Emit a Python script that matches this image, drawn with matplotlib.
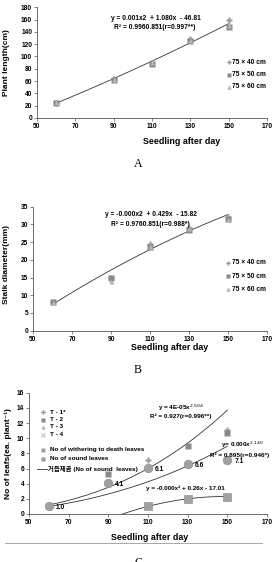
import matplotlib
matplotlib.use("Agg")
import matplotlib.pyplot as plt
import numpy as np

plt.rcParams["font.family"] = ["Liberation Sans", "DejaVu Sans", "Noto Sans CJK KR"]

# ---- data ----
days = [60, 90, 110, 130, 150]

# A: plant length (cm)
len_40 = [25, 64, 90, 129, 159]
len_50 = [24, 61, 88, 125, 148]
len_60 = [26, 63, 91, 127, 151]
trend_a = [0.0017, 1.080, -46.81]        # quadratic trend drawn in panel A

# B: stalk diameter (mm)
dia_40 = [8, 15, 24.5, 29, 32]
dia_50 = [8, 15, 23.5, 28.5, 31.5]
dia_60 = [8, 14, 24, 29, 31.5]
trend_b = [-0.0007, 0.429, -15.82]

# C: number of leaves
t1_days = [110, 150]
t1_vals = [7.1, 11.1]
t2_days = [90, 130, 150]
t2_vals = [5.3, 9.0, 10.7]
wither_days = [110, 130, 150]
wither_vals = [1.0, 2.0, 2.3]
sound_vals = [1.0, 4.1, 6.1, 6.6, 7.1]
upper_pow = [2.23e-5, 2.66]    # k, p  (y = k x^p)
middle_pow = [5.63e-5, 2.39]
lower_quad = [-0.000875, 0.26, -17.01]

W, H = 275, 562
FS = 4.8      # annotation / legend text
TICK = 4.8
LAB = 6.0
fig = plt.figure(figsize=(W / 100, H / 100), dpi=100)


def px_axes(l, t, r, b):
    return fig.add_axes([l / W, 1 - b / H, (r - l) / W, (b - t) / H])


def fx(x):
    return x / W


def fy(y):
    return 1 - y / H


def style(ax, ymax, ystep):
    ax.set_xlim(50, 170)
    ax.set_ylim(0, ymax)
    ax.set_xticks(range(50, 171, 20))
    ax.set_yticks(np.arange(0, ymax + 0.1, ystep))
    for s in ("top", "right"):
        ax.spines[s].set_visible(False)
    for s in ("left", "bottom"):
        ax.spines[s].set_linewidth(0.6)
        ax.spines[s].set_color("#555")
    ax.tick_params(length=2, width=0.5, color="#555", pad=1.5, labelsize=TICK)
    for lab in ax.get_xticklabels() + ax.get_yticklabels():
        lab.set_fontweight("bold")
    ax.patch.set_alpha(0)


def fig_marker(x, y, **kw):
    fig.lines.append(plt.Line2D([fx(x)], [fy(y)], transform=fig.transFigure, **kw))


mk = dict(ls="none", mec="none")
series_style = [("75 \u00d7 40 cm", "P", "#9a9a9a"),
                ("75 \u00d7 50 cm", "s", "#8a8a8a"),
                ("75 \u00d7 60 cm", "^", "#b5b5b5")]

# ---------------- panel A ----------------
axA = px_axes(37, 7.3, 267, 118)
style(axA, 180, 20)
xs = np.linspace(60, 150, 100)
axA.plot(xs, np.polyval(trend_a, xs), color="#333", lw=0.6)
axA.plot(days, len_40, marker="P", ms=4, color="#9a9a9a", **mk)
axA.plot(days, len_50, marker="s", ms=4.2, color="#8a8a8a", **mk)
axA.plot(days, len_60, marker="^", ms=3.6, color="#b5b5b5", **mk)
fig.text(fx(156), fy(18), "y = 0.001x2  + 1.080x  - 46.81", ha="center", va="center",
         fontsize=FS, fontweight="bold")
fig.text(fx(155), fy(27.5), "R\u00b2 = 0.9960.851(r=0.997**)", ha="center", va="center",
         fontsize=FS, fontweight="bold")
for i, (lab, m, c) in enumerate(series_style):
    yy = 62 + i * 12.5
    fig_marker(229, yy, marker=m, ms=3.2, color=c, mec="none")
    fig.text(fx(232.5), fy(yy), lab, va="center", fontsize=FS, fontweight="bold")
fig.text(fx(7), fy(63), "Plant length(cm)", rotation=90, ha="center", va="center",
         fontsize=LAB, fontweight="bold")
fig.text(fx(182), fy(142), "Seedling after day", ha="center", va="center",
         fontsize=6.4, fontweight="bold")
fig.text(fx(138), fy(164), "A", ha="center", va="center", fontsize=8.5,
         family="Liberation Serif")

# ---------------- panel B ----------------
axB = px_axes(33, 206.7, 267, 330.7)
style(axB, 35, 5)
axB.plot(xs, np.polyval(trend_b, xs), color="#333", lw=0.6)
axB.plot(days, dia_40, marker="P", ms=4, color="#9a9a9a", **mk)
axB.plot(days, dia_50, marker="s", ms=4.2, color="#8a8a8a", **mk)
axB.plot(days, dia_60, marker="^", ms=3.6, color="#b5b5b5", **mk)
fig.text(fx(151), fy(214), "y = -0.000x2  + 0.429x  - 15.82", ha="center", va="center",
         fontsize=FS, fontweight="bold")
fig.text(fx(150), fy(224), "R\u00b2 = 0.9760.851(r=0.988*)", ha="center", va="center",
         fontsize=FS, fontweight="bold")
for i, (lab, m, c) in enumerate(series_style):
    yy = 262.7 + i * 13.3
    fig_marker(228, yy, marker=m, ms=3.2, color=c, mec="none")
    fig.text(fx(232), fy(yy), lab, va="center", fontsize=FS, fontweight="bold")
fig.text(fx(7), fy(264), "Stalk diameter(mm)", rotation=90, ha="center", va="center",
         fontsize=LAB, fontweight="bold")
fig.text(fx(170), fy(348), "Seedling after day", ha="center", va="center",
         fontsize=6.4, fontweight="bold")
fig.text(fx(138), fy(370), "B", ha="center", va="center", fontsize=8.5,
         family="Liberation Serif")

# ---------------- panel C ----------------
axC = px_axes(29, 392.7, 267, 514)
style(axC, 16, 2)
axC.plot(xs, upper_pow[0] * xs ** upper_pow[1], color="#333", lw=0.6)
axC.plot(xs, middle_pow[0] * xs ** middle_pow[1], color="#333", lw=0.6)
xq = np.linspace(90, 150, 100)
axC.plot(xq, np.polyval(lower_quad, xq), color="#333", lw=0.6)
axC.plot(t1_days, t1_vals, marker="P", ms=4, color="#9a9a9a", **mk)
axC.plot(t2_days, t2_vals, marker="s", ms=4, color="#8a8a8a", **mk)
axC.plot(wither_days, wither_vals, marker="s", ms=6.2, color="#a0a0a0", mec="#888",
         mew=0.4, ls="none")
axC.plot(days, sound_vals, marker="o", ms=6.2, color="#a0a0a0", mec="#888", mew=0.4,
         ls="none")
for d, v in zip(days, sound_vals):
    axC.annotate(f"{v:.1f}", (d, v), xytext=(5, -1), textcoords="offset points",
                 fontsize=FS, fontweight="bold", va="center")

fig.text(fx(181), fy(408), "y = 4E-05x$^{2.504}$", ha="center", va="center",
         fontsize=4.6, fontweight="bold")
fig.text(fx(181), fy(416), "R\u00b2 = 0.927(r=0.996**)", ha="center", va="center",
         fontsize=4.6, fontweight="bold")
fig.text(fx(221), fy(445), "y= 0.000x$^{2.140}$", ha="left", va="center",
         fontsize=4.6, fontweight="bold")
fig.text(fx(210), fy(455), "R\u00b2 = 0.895(r=0.946*)", ha="left", va="center",
         fontsize=4.6, fontweight="bold")
fig.text(fx(185), fy(488), "y = -0.000x\u00b2 + 0.26x - 17.01", ha="center", va="center",
         fontsize=4.6, fontweight="bold")

legC = [("T - 1*", "P", 3.2, "#9a9a9a", 412),
        ("T - 2", "s", 3.2, "#8a8a8a", 419.5),
        ("T - 3", "^", 3.2, "#b5b5b5", 427),
        ("T - 4", "x", 3.2, "#b5b5b5", 435),
        ("No of withering to death leaves", "s", 3.4, "#a0a0a0", 450),
        ("No of sound leaves", "o", 3.4, "#a0a0a0", 458.5)]
for lab, m, s, c, yy in legC:
    fig_marker(43, yy, marker=m, ms=s, color=c, mec=c if m == "x" else "none", mew=0.6)
    fig.text(fx(50), fy(yy), lab, va="center", fontsize=4.6, fontweight="bold")
fig.lines.append(plt.Line2D([fx(37), fx(47)], [fy(469), fy(469)], color="#333", lw=0.6,
                            transform=fig.transFigure))
fig.text(fx(48), fy(469), "\uac70\ub4ed\uc81c\uacf1 (No of sound  leaves)", va="center",
         fontsize=4.6, fontweight="bold")

fig.text(fx(8), fy(454), "No of leafs(ea. plant\u207b\u00b9)", rotation=90, ha="center",
         va="center", fontsize=LAB, fontweight="bold")
fig.text(fx(150), fy(537), "Seedling after day", ha="center", va="center",
         fontsize=6.4, fontweight="bold")
fig.lines.append(plt.Line2D([fx(5), fx(262)], [fy(543), fy(543)], color="#999", lw=0.6,
                            transform=fig.transFigure))
fig.text(fx(138), fy(557), "C", ha="center", va="top", fontsize=8.5,
         family="Liberation Serif")

fig.savefig("out.png", dpi=100)
